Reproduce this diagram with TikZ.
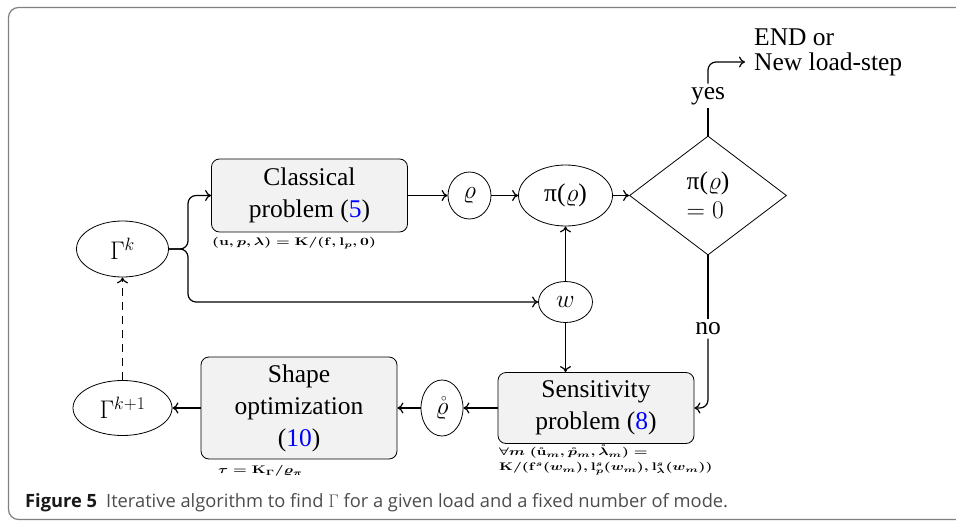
\RequirePackage{fix-cm}
\documentclass[tikz,border=0pt]{standalone}
\usepackage{amsmath}
\usepackage{amssymb}
\usepackage{fontspec}
\setmainfont{Liberation Serif}
\setsansfont{Open Sans}
\usetikzlibrary{shapes.geometric, arrows.meta}

\newcommand{\wide}[1]{\scalebox{1.4}[1]{#1}}

\begin{document}
\begin{tikzpicture}[x=1pt,y=-1pt, >={Computer Modern Rightarrow[length=6pt,width=11pt]},
	block/.style={rectangle, rounded corners=8pt, draw, fill=gray!10, line width=0.8pt, align=center, minimum width=196pt, font=\fontsize{25.5}{32}\selectfont},
	oval/.style={ellipse, draw, line width=0.8pt, inner sep=0pt, font=\fontsize{25.5}{32}\selectfont},
	flow/.style={->, line width=1.2pt},
	sub/.style={anchor=north west, inner sep=0pt, font=\fontsize{11}{15}\selectfont\boldmath, align=left}]
\clip (0,0) rectangle (956,522);
\draw[gray, line width=1.2pt, rounded corners=10pt] (1000,7.5) -- (8.5,7.5) -- (8.5,519.5) -- (1000,519.5);

\node (gk) at (122.5,249) [oval, minimum width=92pt, minimum height=56pt] {$\Gamma^k$};
\node (cls) at (309.5,195.5) [block, minimum height=73pt] {Classical\\problem ({\color{blue}5})};
	\node (clslbl) at (212,237) [sub] {\wide{$(\mathbf{u},p,\lambda)=\mathbf{K}/(\mathbf{f},\mathbf{l}_p,0)$}};
\node (rho) at (469.5,195.5) [oval, minimum width=43pt, minimum height=47pt] {$\varrho$} edge[flow, <-] (cls);
\node (pi) at (565.5,195.5) [oval, minimum width=94pt, minimum height=61pt] {π($\varrho$)} edge[flow, <-] (rho);
\node (test) at (708,195.5) [diamond, draw, line width=0.8pt, inner sep=0pt, minimum width=157pt, minimum height=119pt, align=left, font=\fontsize{25.5}{29}\selectfont] {π($\varrho$)\\$=0$} edge[flow, <-] (pi);

\node (yes) at (708,96) [font=\fontsize{25.5}{32}\selectfont] {yes} edge[line width=1.2pt] (test);
\node (end) at (754,52) [anchor=west, inner sep=0pt, align=left, font=\fontsize{25.5}{25}\selectfont] {END or\\New load-step};
	\draw[flow, rounded corners=8pt] (yes.north) |- ([xshift=-9pt, yshift=-10pt]end.west);

\node (w) at (565.5,302) [oval, minimum width=54pt, minimum height=41pt] {$w$} edge[flow] (pi);

\coordinate (fork) at (188,249);
	\draw[flow, rounded corners=8pt] (gk.east) -- (fork) |- (cls.west);
	\draw[flow, rounded corners=8pt] (gk.east) -- (fork) |- (w.west);

\node (sens) at (596,408) [block, minimum height=71pt] {Sensitivity\\problem ({\color{blue}8})};
	\node (senslbl) at (499,445) [sub] {\wide{$\forall m\;(\mathring{\mathbf{u}}_m,\mathring{p}_m,\mathring{\lambda}_m)=$}\\\wide{$\mathbf{K}/(\mathbf{f}^s(w_m),\mathbf{l}^s_p(w_m),\mathbf{l}^s_\lambda(w_m))$}};
	\draw[flow] (w) -- (w |- sens.north);

\node (no) at (708,329) [font=\fontsize{25.5}{32}\selectfont] {no} edge[line width=1.2pt] (test);
	\draw[flow, rounded corners=8pt] (no.south) |- (sens.east);

\node (rhoc) at (442,408) [oval, minimum width=42pt, minimum height=56pt] {$\mathring{\varrho}$} edge[flow, <-] (sens);
\node (shape) at (299,408) [block, minimum height=102pt] {Shape\\optimization\\({\color{blue}10})} edge[flow, <-] (rhoc);
	\node (shapelbl) at (218,465) [sub] {\wide{$\tau=\mathbf{K}_\Gamma/\varrho_\pi$}};
\node (gk1) at (122.5,408) [oval, minimum width=99pt, minimum height=55pt] {$\Gamma^{k+1}$} edge[flow, <-] (shape);
	\draw[flow, dash pattern=on 8pt off 6pt] (gk1) -- (gk);

\node (caption) at (25,507) [anchor=base west, inner sep=0pt, text=black!70, font=\sffamily\fontsize{18.3}{22}\selectfont] {\textbf{\color{black!90}Figure 5}\hspace{9pt}Iterative algorithm to find $\Gamma$ for a given load and a fixed number of mode.};
\end{tikzpicture}
\end{document}
